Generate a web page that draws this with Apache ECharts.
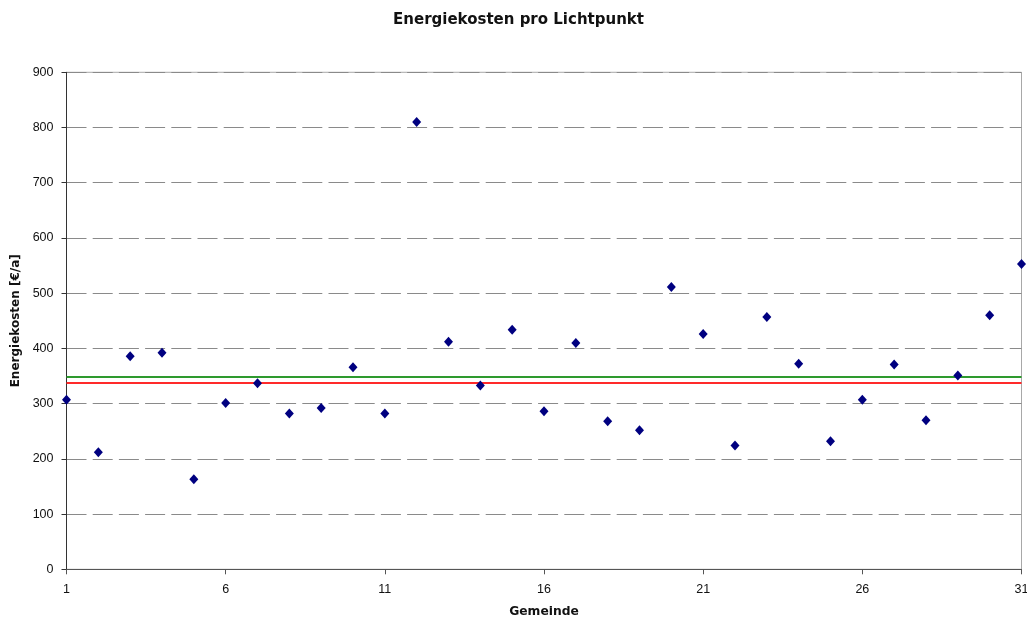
<!DOCTYPE html>
<html>
<head>
<meta charset="utf-8">
<script src="https://cdn.jsdelivr.net/npm/echarts@6/dist/echarts.min.js"></script>
<style>
html,body{margin:0;padding:0;background:#fff;overflow:hidden;}
#chart{width:1027px;height:621px;}
</style>
</head>
<body>
<div id="chart"></div>
<script>
const categories = ['1','2','3','4','5','6','7','8','9','10','11','12','13','14','15','16','17','18','19','20','21','22','23','24','25','26','27','28','29','30','31'];
const energiekosten = [307, 212, 386, 392, 163, 301, 337, 282, 292, 366, 282, 810, 412, 333, 434, 286, 410, 268, 252, 511, 426, 224, 457, 372, 232, 307, 371, 270, 351, 460, 553];
const greenLineValue = 349.5;
const redLineValue = 338.5;
const yTicks = { min: 0, max: 900, interval: 100 };

const FONT = '"Liberation Sans", Arial, sans-serif';
const BOLD = '"DejaVu Sans", sans-serif';
const chart = echarts.init(document.getElementById('chart'), null, { renderer: 'canvas' });
chart.setOption({
  animation: false,
  backgroundColor: '#ffffff',
  graphic: [{
    type: 'text',
    x: 518.5, y: 20.5,
    style: {
      text: 'Energiekosten pro Lichtpunkt',
      fontFamily: BOLD, fontSize: 15, fontWeight: 'bold', fill: '#111',
      textAlign: 'center', textVerticalAlign: 'middle'
    }
  }],
  grid: {
    left: 66.5, right: 5.5, top: 72.3, bottom: 51.7,
    outerBoundsMode: 'none',
    containLabel: false,
    show: true, borderColor: '#a8a8a8', borderWidth: 1, backgroundColor: '#fff'
  },
  xAxis: {
    type: 'category',
    data: categories,
    boundaryGap: false,
    name: 'Gemeinde',
    nameLocation: 'middle',
    nameGap: 37,
    nameTextStyle: { fontFamily: BOLD, fontSize: 12.3, fontWeight: 'bold', color: '#111' },
    axisLine: { lineStyle: { color: '#555', width: 1 } },
    axisTick: { show: true, interval: 4, length: 5, inside: false, lineStyle: { color: '#555' } },
    axisLabel: { interval: 4, fontFamily: FONT, fontSize: 12.5, color: '#111', margin: 14 },
    splitLine: { show: false }
  },
  yAxis: {
    type: 'value',
    min: yTicks.min, max: yTicks.max, interval: yTicks.interval,
    name: 'Energiekosten [€/a]',
    nameLocation: 'middle',
    nameGap: 43,
    nameRotate: 90,
    nameTextStyle: { fontFamily: BOLD, fontSize: 12, fontWeight: 'bold', color: '#111' },
    axisLine: { show: true, lineStyle: { color: '#333', width: 1 } },
    axisTick: { show: true, length: 5, lineStyle: { color: '#333' } },
    axisLabel: { fontFamily: FONT, fontSize: 12.5, color: '#111', margin: 13 },
    splitLine: { show: true, lineStyle: { color: '#8a8a8a', width: 1, type: [20, 6.2] } }
  },
  series: [{
    type: 'scatter',
    data: energiekosten,
    symbol: 'diamond',
    symbolSize: [9, 10],
    itemStyle: { color: '#000080', opacity: 1 },
    z: 5,
    markLine: {
      silent: true,
      symbol: 'none',
      label: { show: false },
      animation: false,
      data: [
        { yAxis: greenLineValue, lineStyle: { color: '#2e9a2e', width: 2, type: 'solid', opacity: 1 } },
        { yAxis: redLineValue, lineStyle: { color: '#ff2a2a', width: 2, type: 'solid', opacity: 1 } }
      ]
    }
  }]
});
</script>
</body>
</html>
